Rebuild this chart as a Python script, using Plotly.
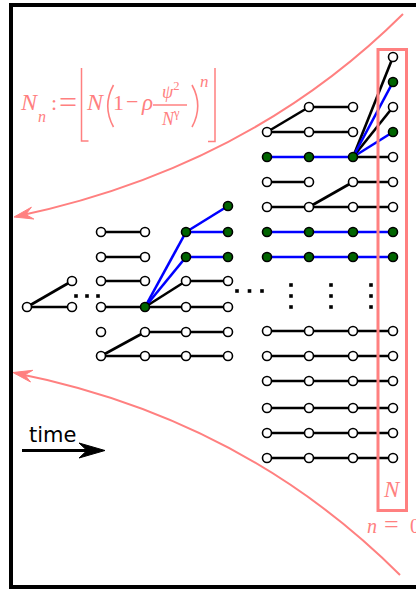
import math
import plotly.graph_objects as go

# ---- data: genealogy diagram ----
X = [27, 72, 101, 145, 186, 228, 267, 309, 353, 393]   # time-step columns
lower_rows = [331, 356, 381, 408, 433, 458]
blue_rows = [232, 257]

black_edges = [
    (0, 307, 1, 307), (0, 307, 1, 281),
    (2, 232, 3, 232), (2, 257, 3, 257), (2, 281, 3, 281), (2, 307, 3, 307),
    (2, 356, 3, 356), (2, 356, 3, 332),
    (3, 307, 4, 307), (3, 307, 4, 281), (3, 332, 4, 332), (3, 356, 4, 356),
    (4, 281, 5, 281), (4, 307, 5, 307), (4, 332, 5, 332), (4, 356, 5, 356),
    (6, 132, 7, 132), (6, 132, 7, 107), (7, 107, 8, 107), (7, 132, 8, 132),
    (8, 157, 9, 57), (8, 157, 9, 107), (8, 157, 9, 157),
    (6, 182, 7, 182), (8, 182, 9, 182),
    (6, 207, 7, 207), (7, 207, 8, 207), (8, 207, 9, 207), (7, 207, 8, 182),
] + [(c, y, c + 1, y) for y in lower_rows for c in (6, 7, 8)]

blue_edges = [
    (3, 307, 4, 232), (3, 307, 4, 257),
    (4, 232, 5, 206), (4, 232, 5, 232), (4, 257, 5, 257),
    (6, 157, 7, 157), (7, 157, 8, 157), (8, 157, 9, 82), (8, 157, 9, 132),
] + [(c, y, c + 1, y) for y in blue_rows for c in (6, 7, 8)]

green_nodes = [(3, 307), (4, 232), (4, 257), (5, 206), (5, 232), (5, 257),
               (6, 157), (7, 157), (8, 157), (9, 82), (9, 132)] + \
              [(c, y) for y in blue_rows for c in (6, 7, 8, 9)]
isolated_nodes = [(2, 332)]

dots_h1_x = [76, 87, 98]
dots_h1_y = [296, 296, 296]
dots_h2_x = [237, 249.5, 262]
dots_h2_y = [291, 291, 291]
dots_v_cols = [291, 331, 371]
dots_v_rows = [285, 296, 307]

PINK = "#ff8080"
SERIF = "Liberation Serif"

# ---- build ----
def seg_xy(edges):
    xs, ys = [], []
    for c0, y0, c1, y1 in edges:
        xs += [X[c0], X[c1], None]
        ys += [y0, y1, None]
    return xs, ys

all_nodes = set()
for c0, y0, c1, y1 in black_edges + blue_edges:
    all_nodes.add((c0, y0)); all_nodes.add((c1, y1))
all_nodes |= set(isolated_nodes)
white_nodes = sorted(all_nodes - set(green_nodes))

fig = go.Figure()
bx, by = seg_xy(black_edges)
fig.add_trace(go.Scatter(x=bx, y=by, mode="lines", line=dict(color="black", width=2.6),
                         hoverinfo="skip"))
ux, uy = seg_xy(blue_edges)
fig.add_trace(go.Scatter(x=ux, y=uy, mode="lines", line=dict(color="#0000ff", width=2.6),
                         hoverinfo="skip"))
fig.add_trace(go.Scatter(x=[X[c] for c, _ in white_nodes], y=[y for _, y in white_nodes],
                         mode="markers",
                         marker=dict(size=9, color="white", line=dict(color="black", width=1.6))))
fig.add_trace(go.Scatter(x=[X[c] for c, _ in green_nodes], y=[y for _, y in green_nodes],
                         mode="markers",
                         marker=dict(size=9, color="#006400", line=dict(color="black", width=1.6))))
vx = [c for c in dots_v_cols for _ in dots_v_rows]
vy = [r for _ in dots_v_cols for r in dots_v_rows]
fig.add_trace(go.Scatter(x=dots_h1_x + dots_h2_x + vx, y=dots_h1_y + dots_h2_y + vy,
                         mode="markers", marker=dict(symbol="square", size=3.6, color="black")))

shapes = []
# frame
shapes.append(dict(type="rect", xref="x", yref="y", x0=11, x1=450, y0=5, y1=587,
                   line=dict(color="black", width=4), layer="below"))
# pink N box
shapes.append(dict(type="rect", xref="x", yref="y", x0=378, x1=406.5, y0=49.5, y1=510.5,
                   line=dict(color=PINK, width=3), layer="above"))
# pink curves
shapes.append(dict(type="path", xref="x", yref="y", path="M 16,216.5 Q 248,168 403,14",
                   line=dict(color=PINK, width=2)))
shapes.append(dict(type="path", xref="x", yref="y", path="M 15,373 Q 243,418 400,575",
                   line=dict(color=PINK, width=2)))

def head(tx, ty, dx, dy, L=19, W=6, N=12):
    n = math.hypot(dx, dy); dx /= n; dy /= n
    px, py = -dy, dx
    bx_, by_ = tx + L * dx, ty + L * dy
    nx, ny = tx + N * dx, ty + N * dy
    return "M %.1f,%.1f L %.1f,%.1f L %.1f,%.1f L %.1f,%.1f Z" % (
        tx, ty, bx_ + W * px, by_ + W * py, nx, ny, bx_ - W * px, by_ - W * py)
shapes.append(dict(type="path", xref="x", yref="y", path=head(14, 217, 234, -49),
                   line=dict(color=PINK, width=1), fillcolor=PINK))
shapes.append(dict(type="path", xref="x", yref="y", path=head(13, 372.5, 230, 45),
                   line=dict(color=PINK, width=1), fillcolor=PINK))
# time arrow
shapes.append(dict(type="line", xref="x", yref="y", x0=22, x1=92, y0=450.5, y1=450.5,
                   line=dict(color="black", width=3)))
shapes.append(dict(type="path", xref="x", yref="y",
                   path="M 105,450.5 L 79,443 L 87,450.5 L 79,458 Z",
                   line=dict(color="black", width=1), fillcolor="black"))
# floor brackets, big parentheses and fraction bar of the formula
shapes.append(dict(type="path", xref="x", yref="y", path="M 88.5,141 L 81.5,141 L 81.5,68",
                   line=dict(color=PINK, width=1.5)))
shapes.append(dict(type="path", xref="x", yref="y", path="M 208,141.5 L 215,141.5 L 215,68",
                   line=dict(color=PINK, width=1.5)))
shapes.append(dict(type="path", xref="x", yref="y", path="M 113.5,85 Q 102,106 113.5,127",
                   line=dict(color=PINK, width=1.6)))
shapes.append(dict(type="path", xref="x", yref="y", path="M 192,85 Q 203.5,106 192,127",
                   line=dict(color=PINK, width=1.6)))
shapes.append(dict(type="line", xref="x", yref="y", x0=153, x1=187, y0=105, y1=105,
                   line=dict(color=PINK, width=1.3)))

ann = []
def T(text, x, y, size, family=SERIF, color=PINK, xanchor="center"):
    ann.append(dict(text=text, x=x, y=y, xref="x", yref="y", showarrow=False,
                    xanchor=xanchor, yanchor="middle",
                    font=dict(family=family, size=size, color=color)))

T("<i>N</i>", 29, 101.8, 24)
T("<i>n</i>", 41.5, 116, 16)
T(":", 53.5, 102.6, 22)
T("=", 67.5, 101.5, 32)
T("<i>N</i>", 95, 101.8, 24)
T("1", 118, 102.6, 22)
T("−", 132, 101.5, 22)
T("<i>ρ</i>", 147, 102.6, 23)
T("<i>ψ</i><sup>2</sup>", 170, 90.5, 18)
T("<i>N</i><sup>γ</sup>", 170.5, 117, 18)
T("<i>n</i>", 204, 81, 17)
T("<i>N</i>", 392, 489.2, 23)
T("<i>n</i>", 372, 525.5, 20)
T("=", 391, 524.5, 26)
T("0", 408, 525.5, 20, xanchor="left")
T("time", 52.5, 434.7, 21, family="DejaVu Sans", color="black")

fig.update_layout(
    width=416, height=590, margin=dict(l=0, r=0, t=0, b=0),
    paper_bgcolor="white", plot_bgcolor="white", showlegend=False,
    xaxis=dict(range=[0, 416], visible=False, fixedrange=True),
    yaxis=dict(range=[590, 0], visible=False, fixedrange=True),
    shapes=shapes, annotations=ann,
)
fig.write_html("out.html", post_script="document.body.style.margin='0';",
               config={"displayModeBar": False})
